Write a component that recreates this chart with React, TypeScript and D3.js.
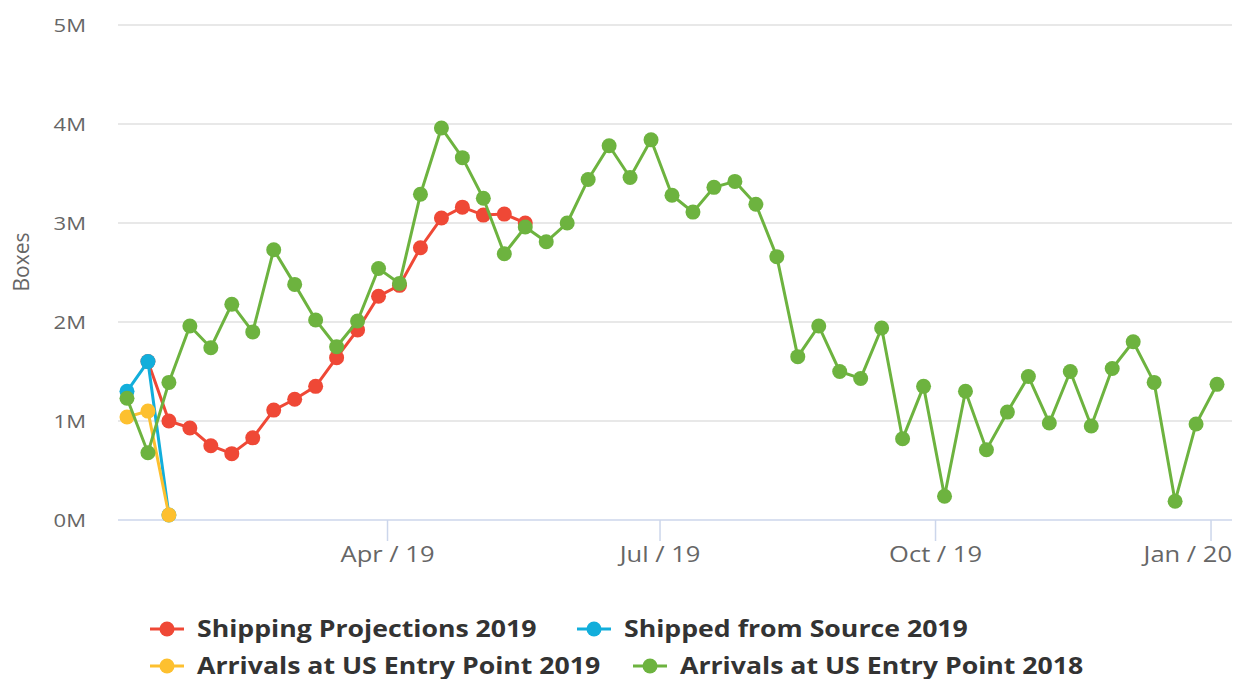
import * as d3 from "d3";

// weekly values in millions of boxes, first week = Jan 4 2019
const firstWeek = new Date(2019, 0, 4);

const arrivals2018 = [
  1.23, 0.68, 1.39, 1.96, 1.74, 2.18, 1.9, 2.73, 2.38, 2.02, 1.75, 2.01, 2.54,
  2.39, 3.29, 3.96, 3.66, 3.25, 2.69, 2.96, 2.81, 3.0, 3.44, 3.78, 3.46, 3.84,
  3.28, 3.11, 3.36, 3.42, 3.19, 2.66, 1.65, 1.96, 1.5, 1.43, 1.94, 0.82, 1.35,
  0.24, 1.3, 0.71, 1.09, 1.45, 0.98, 1.5, 0.95, 1.53, 1.8, 1.39, 0.19, 0.97,
  1.37,
];
// projections start at week 1
const projections2019 = [
  1.6, 1.0, 0.93, 0.75, 0.67, 0.83, 1.11, 1.22, 1.35, 1.64, 1.92, 2.26, 2.37,
  2.75, 3.05, 3.16, 3.08, 3.09, 3.0,
];
const shipped2019 = [1.3, 1.6, 0.05];
const arrivals2019 = [1.04, 1.1, 0.05];

const yTicks = [0, 1, 2, 3, 4, 5];
const xTickDates = [
  new Date(2019, 3, 1),
  new Date(2019, 6, 1),
  new Date(2019, 9, 1),
  new Date(2020, 0, 1),
];

const series = [
  { name: "Shipping Projections 2019", values: projections2019, offset: 1, color: "#ef4836" },
  { name: "Shipped from Source 2019", values: shipped2019, offset: 0, color: "#12aedb" },
  { name: "Arrivals at US Entry Point 2019", values: arrivals2019, offset: 0, color: "#fdc02f" },
  { name: "Arrivals at US Entry Point 2018", values: arrivals2018, offset: 0, color: "#6db33f" },
];

const legendPos = [
  { x: 150, y: 637 },
  { x: 577, y: 637 },
  { x: 150, y: 674 },
  { x: 633, y: 674 },
];

const W = 1235;
const H = 679;
const left = 118;
const right = 1232;
const top = 25;
const bottom = 520;
const stretch = 1.16; // the reference text is drawn a bit wide

const weekDate = (i: number) => d3.timeDay.offset(firstWeek, 7 * i);

export default function App() {
  const x = d3
    .scaleTime()
    .domain([new Date(2019, 0, 1), new Date(2020, 0, 8)])
    .range([left, right]);
  const y = d3.scaleLinear().domain([0, 5]).range([bottom, top]);
  const fmt = d3.timeFormat("%b / %y");

  const line = d3
    .line<[Date, number]>()
    .x((d) => x(d[0]))
    .y((d) => y(d[1]));

  return (
    <svg
      width={W}
      height={H}
      style={{ position: "absolute", left: 0, top: 0, background: "#fff" }}
      fontFamily="'Open Sans', sans-serif"
    >
      {yTicks.map((t) => (
        <g key={t}>
          {t > 0 && (
            <line x1={left} x2={right} y1={y(t)} y2={y(t)} stroke="#e0e0e0" strokeWidth={1.5} />
          )}
          <text
            transform={`translate(86,${y(t)}) scale(${stretch},1)`}
            dy="0.35em"
            textAnchor="end"
            fontSize={19}
            fill="#666"
          >
            {t + "M"}
          </text>
        </g>
      ))}
      <text
        transform={`translate(29,262) rotate(-90)`}
        textAnchor="middle"
        fontSize={21}
        fill="#666"
      >
        Boxes
      </text>
      <line x1={left} x2={right} y1={bottom} y2={bottom} stroke="#ccd6eb" strokeWidth={1.5} />
      {xTickDates.map((d, i) => {
        const last = i === xTickDates.length - 1;
        return (
          <g key={+d}>
            <line x1={x(d)} x2={x(d)} y1={bottom} y2={bottom + 21} stroke="#ccd6eb" strokeWidth={1.5} />
            <text
              transform={`translate(${last ? right : x(d)},562) scale(${stretch},1)`}
              textAnchor={last ? "end" : "middle"}
              fontSize={22}
              fill="#666"
            >
              {fmt(d)}
            </text>
          </g>
        );
      })}
      {series.map((s) => {
        const pts: [Date, number][] = s.values.map((v, i) => [weekDate(i + s.offset), v]);
        return (
          <g key={s.name}>
            <path d={line(pts) ?? ""} fill="none" stroke={s.color} strokeWidth={3} />
            {pts.map((p, i) => (
              <circle key={i} cx={x(p[0])} cy={y(p[1])} r={7.5} fill={s.color} />
            ))}
          </g>
        );
      })}
      {series.map((s, i) => {
        const p = legendPos[i];
        return (
          <g key={s.name} transform={`translate(${p.x},${p.y})`}>
            <line x1={0} x2={34} y1={-8} y2={-8} stroke={s.color} strokeWidth={3} />
            <circle cx={17} cy={-8} r={7.5} fill={s.color} />
            <text transform={`translate(47,0) scale(1.16,1)`} fontSize={23} fontWeight="bold" fill="#333">
              {s.name}
            </text>
          </g>
        );
      })}
    </svg>
  );
}
